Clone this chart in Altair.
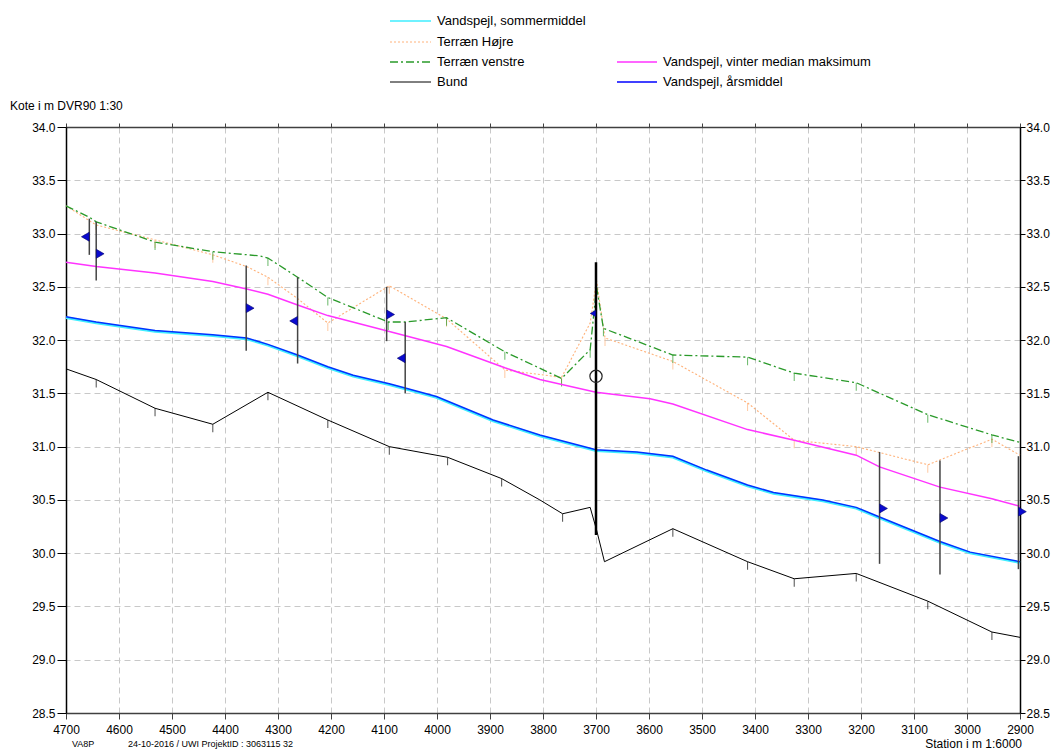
import altair as alt
import pandas as pd

# ---------------- data ----------------
bund_st = [4700, 4643, 4532, 4423, 4319, 4206, 4090, 3980, 3878, 3806, 3763, 3711, 3699, 3684,
           3555, 3414, 3326, 3209, 3074, 2953, 2900]
bund_val = [31.73, 31.63, 31.36, 31.21, 31.51, 31.25, 31.00, 30.90, 30.70, 30.50, 30.37, 30.43,
            30.22, 29.92, 30.23, 29.92, 29.76, 29.81, 29.55, 29.26, 29.21]
bund_tick = [0, 1, 1, 1, 1, 1, 1, 1, 1, 0, 1, 0, 0, 0, 1, 1, 1, 1, 1, 1, 0]

venstre_st = [4700, 4655, 4643, 4532, 4423, 4334, 4319, 4263, 4206, 4092, 4060, 3982, 3872, 3765,
              3711, 3699, 3686, 3555, 3414, 3326, 3209, 3074, 2953, 2900]
venstre_val = [33.26, 33.15, 33.11, 32.92, 32.83, 32.79, 32.77, 32.59, 32.40, 32.17, 32.17, 32.21,
               31.89, 31.64, 31.91, 32.50, 32.11, 31.86, 31.84, 31.69, 31.60, 31.30, 31.11, 31.04]
venstre_tick = [0, 0, 1, 1, 1, 0, 1, 0, 1, 1, 0, 1, 1, 1, 1, 0, 1, 1, 1, 1, 1, 1, 1, 0]

hojre_st = [4700, 4643, 4532, 4423, 4359, 4319, 4263, 4206, 4090, 3982, 3872, 3765, 3711, 3699,
            3683, 3555, 3414, 3326, 3209, 3074, 2953, 2900]
hojre_val = [33.26, 33.08, 32.94, 32.80, 32.69, 32.59, 32.39, 32.16, 32.51, 32.20, 31.72, 31.65,
             32.16, 32.56, 32.02, 31.80, 31.41, 31.06, 31.00, 30.83, 31.07, 30.92]
hojre_tick = [0, 1, 1, 1, 0, 1, 0, 1, 1, 1, 1, 1, 0, 0, 1, 1, 1, 1, 1, 1, 1, 0]

vinter_st = [4700, 4643, 4532, 4423, 4359, 4319, 4263, 4206, 4090, 3982, 3872, 3806, 3700, 3598,
             3555, 3414, 3326, 3209, 3165, 3051, 2953, 2900]
vinter_val = [32.73, 32.69, 32.63, 32.55, 32.48, 32.43, 32.33, 32.23, 32.08, 31.94, 31.74, 31.63,
              31.51, 31.45, 31.40, 31.16, 31.06, 30.92, 30.81, 30.62, 30.51, 30.44]

aars_st = [4700, 4643, 4532, 4423, 4359, 4319, 4263, 4206, 4158, 4090, 4060, 4001, 3894, 3806,
           3700, 3623, 3555, 3491, 3414, 3365, 3272, 3209, 3165, 3051, 2994, 2900]
aars_val = [32.22, 32.17, 32.09, 32.05, 32.02, 31.96, 31.86, 31.75, 31.67, 31.59, 31.55, 31.47,
            31.25, 31.11, 30.97, 30.95, 30.91, 30.78, 30.64, 30.57, 30.50, 30.43, 30.34, 30.11,
            30.01, 29.92]
sommer_val = [32.21, 32.16, 32.08, 32.04, 32.01, 31.95, 31.85, 31.74, 31.66, 31.58, 31.54, 31.46,
              31.24, 31.10, 30.96, 30.94, 30.90, 30.77, 30.63, 30.56, 30.49, 30.42, 30.33, 30.10,
              30.00, 29.91]

bar_st = [4656, 4643, 4360, 4263, 4095, 4060, 3165, 3051, 2903]
bar_top = [33.14, 33.11, 32.70, 32.59, 32.50, 32.17, 30.95, 30.87, 30.91]
bar_bot = [32.80, 32.56, 31.90, 31.78, 31.99, 31.50, 29.90, 29.80, 29.85]
bar_mark = [32.97, 32.81, 32.30, 32.18, 32.24, 31.83, 30.42, 30.33, 30.39]
bar_dir = ["left", "right", "right", "left", "right", "left", "right", "right", "right"]

main_st = [3700]
main_top = [32.73]
main_bot = [30.17]
main_mark = [32.25]
circle_st = [3700]
circle_val = [31.66]

x_ticks = list(range(2900, 4701, 100))
y_ticks = [28.5 + 0.5 * i for i in range(12)]

legend_items = [
    ("Vandspejl, sommermiddel", 0, 0, "#3feeff", None, 1.5),
    ("Terræn Højre", 0, 1, "#ffb27a", [2, 2], 1),
    ("Terræn venstre", 0, 2, "#2a9a2a", [8, 3, 2, 3], 1.3),
    ("Bund", 0, 3, "#000000", None, 1),
    ("Vandspejl, vinter median maksimum", 1, 2, "#ff33ff", None, 1.5),
    ("Vandspejl, årsmiddel", 1, 3, "#0000ff", None, 1.5),
]

# ---------------- helpers ----------------
FONT = "Liberation Sans"
xs = alt.Scale(domain=[2900, 4700], reverse=True, nice=False, zero=False)
ys = alt.Scale(domain=[28.5, 34.0], nice=False, zero=False)


def df_line(st, val, tick=None):
    d = pd.DataFrame({"station": st, "kote": val})
    if tick is not None:
        d["tick"] = tick
    return d


X_NONE = alt.X("station:Q", scale=xs, axis=None)
Y_NONE = alt.Y("kote:Q", scale=ys, axis=None)

grid_kw = dict(grid=True, gridColor="#c8c8c8", gridDash=[6, 4], gridWidth=1)

x_bottom = alt.X("station:Q", scale=xs, title=None,
                 axis=alt.Axis(orient="bottom", values=x_ticks, format="d", tickSize=6,
                               labelPadding=5, labelFontSize=12, labelColor="#000",
                               labelFont=FONT, domainColor="#404040", domainWidth=1.5,
                               tickColor="#404040", labelFlush=False, **grid_kw))
y_left = alt.Y("kote:Q", scale=ys, title=None,
               axis=alt.Axis(orient="left", values=y_ticks, format=".1f", tickSize=9,
                             labelPadding=2, labelFontSize=12, labelColor="#000",
                             labelFont=FONT, domainColor="#000", domainWidth=1.5,
                             tickColor="#000", labelFlush=False, **grid_kw))
x_top = alt.X("station:Q", scale=xs, title=None,
              axis=alt.Axis(orient="top", values=x_ticks, labels=False, tickSize=4,
                            domainColor="#404040", domainWidth=1.5, tickColor="#404040",
                            grid=False))
right_axis = alt.Axis(orient="right", values=y_ticks, format=".1f", tickSize=5,
                      labelPadding=1, labelFontSize=12, labelColor="#000",
                      labelFont=FONT, domainColor="#000", domainWidth=1.5,
                      tickColor="#000", labelFlush=False, grid=False)

layers = []

# Bund (carries bottom / left axes)
bund = df_line(bund_st, bund_val, bund_tick)
layers.append(alt.Chart(bund).mark_line(color="#000000", strokeWidth=1).encode(
    x=x_bottom, y=y_left, order="idx:Q").transform_window(idx="row_number()"))

# Terræn Højre
hojre = df_line(hojre_st, hojre_val, hojre_tick)
layers.append(alt.Chart(hojre).mark_line(color="#ffb27a", strokeWidth=1.1,
                                         strokeDash=[2, 2]).encode(
    x=X_NONE, y=Y_NONE, order="idx:Q").transform_window(idx="row_number()"))

# Terræn venstre
venstre = df_line(venstre_st, venstre_val, venstre_tick)
layers.append(alt.Chart(venstre).mark_line(color="#2a9a2a", strokeWidth=1.3,
                                           strokeDash=[8, 3, 2, 3]).encode(
    x=X_NONE, y=Y_NONE, order="idx:Q").transform_window(idx="row_number()"))

# vertex ticks
for d, col in [(bund, "#000000"), (hojre, "#ffb27a"), (venstre, "#2a9a2a")]:
    layers.append(alt.Chart(d).transform_filter("datum.tick == 1").mark_tick(
        orient="vertical", size=8, thickness=1, color=col, yOffset=4).encode(
        x=X_NONE, y=Y_NONE))

# Vandspejl, vinter median maksimum
layers.append(alt.Chart(df_line(vinter_st, vinter_val)).mark_line(
    color="#ff33ff", strokeWidth=1.5).encode(x=X_NONE, y=Y_NONE))

# sommermiddel (cyan) under årsmiddel (blue)
layers.append(alt.Chart(df_line(aars_st, sommer_val)).mark_line(
    color="#3feeff", strokeWidth=2.4).encode(x=X_NONE, y=Y_NONE))
layers.append(alt.Chart(df_line(aars_st, aars_val)).mark_line(
    color="#0033ff", strokeWidth=1.5).encode(x=X_NONE, y=Y_NONE))

# vertical bars with markers
bars = pd.DataFrame({"station": bar_st, "top": bar_top, "bot": bar_bot,
                     "mark": bar_mark, "dir": bar_dir})
layers.append(alt.Chart(bars).mark_rule(color="#444444", strokeWidth=1.5).encode(
    x=x_top, y=alt.Y("top:Q", scale=ys, title=None, axis=right_axis), y2="bot:Q"))
main = pd.DataFrame({"station": main_st, "top": main_top, "bot": main_bot, "mark": main_mark})
layers.append(alt.Chart(main).mark_rule(color="#000000", strokeWidth=2.5).encode(
    x=X_NONE, y=alt.Y("top:Q", scale=ys, axis=None), y2="bot:Q"))

layers.append(alt.Chart(bars).transform_filter("datum.dir == 'left'").mark_point(
    shape="triangle-left", size=80, filled=True, fill="#0a0ad0", stroke="#000066",
    strokeWidth=0.6, opacity=1, xOffset=-4).encode(
    x=X_NONE, y=alt.Y("mark:Q", scale=ys, axis=None)))
layers.append(alt.Chart(bars).transform_filter("datum.dir == 'right'").mark_point(
    shape="triangle-right", size=80, filled=True, fill="#0a0ad0", stroke="#000066",
    strokeWidth=0.6, opacity=1, xOffset=4).encode(
    x=X_NONE, y=alt.Y("mark:Q", scale=ys, axis=None)))
layers.append(alt.Chart(main).mark_point(
    shape="triangle-left", size=40, filled=True, fill="#0a0ad0", stroke="#000066",
    strokeWidth=0.6, opacity=1, xOffset=-3).encode(
    x=X_NONE, y=alt.Y("mark:Q", scale=ys, axis=None)))
layers.append(alt.Chart(pd.DataFrame({"station": circle_st, "kote": circle_val})).mark_point(
    shape="circle", size=150, filled=False, stroke="#222222", strokeWidth=1.2, opacity=1).encode(
    x=X_NONE, y=Y_NONE))

# ---------------- legend & texts ----------------
one = alt.Data(values=[{}])
col_x = [(324, 365, 371), (551, 591, 597)]
row_y = [-106, -85, -65, -45]
for label, c, r, color, dash, w in legend_items:
    x1, x2, xt = col_x[c]
    kw = dict(color=color, strokeWidth=w)
    if dash is not None:
        kw["strokeDash"] = dash
    layers.append(alt.Chart(one).mark_rule(**kw).encode(
        x=alt.value(x1), x2=alt.value(x2), y=alt.value(row_y[r])))
    layers.append(alt.Chart(one).mark_text(
        align="left", baseline="middle", font=FONT, fontSize=13, color="#000").encode(
        x=alt.value(xt), y=alt.value(row_y[r]), text=alt.value(label)))

layers.append(alt.Chart(one).mark_text(
    align="left", baseline="middle", font=FONT, fontSize=12, color="#000").encode(
    x=alt.value(-56), y=alt.value(-21), text=alt.value("Kote i m DVR90 1:30")))
layers.append(alt.Chart(one).mark_text(
    align="right", baseline="middle", font=FONT, fontSize=12, color="#000").encode(
    x=alt.value(956), y=alt.value(617), text=alt.value("Station i m  1:6000")))
layers.append(alt.Chart(one).mark_text(
    align="left", baseline="top", font=FONT, fontSize=9, color="#000").encode(
    x=alt.value(6), y=alt.value(613), text=alt.value("VA8P")))
layers.append(alt.Chart(one).mark_text(
    align="left", baseline="top", font=FONT, fontSize=9, color="#000").encode(
    x=alt.value(62), y=alt.value(613), text=alt.value("24-10-2016 / UWI   ProjektID : 3063115 32")))

chart = alt.layer(*layers).resolve_axis(x="independent", y="independent").properties(
    width=954, height=586,
    padding={"left": 58, "top": 119, "right": 31, "bottom": 40},
    autosize=alt.AutoSizeParams(type="none"),
    background="#ffffff",
).configure_view(stroke=None).configure(font=FONT)

chart.save("out.html", embed_options={"renderer": "svg", "actions": False})
